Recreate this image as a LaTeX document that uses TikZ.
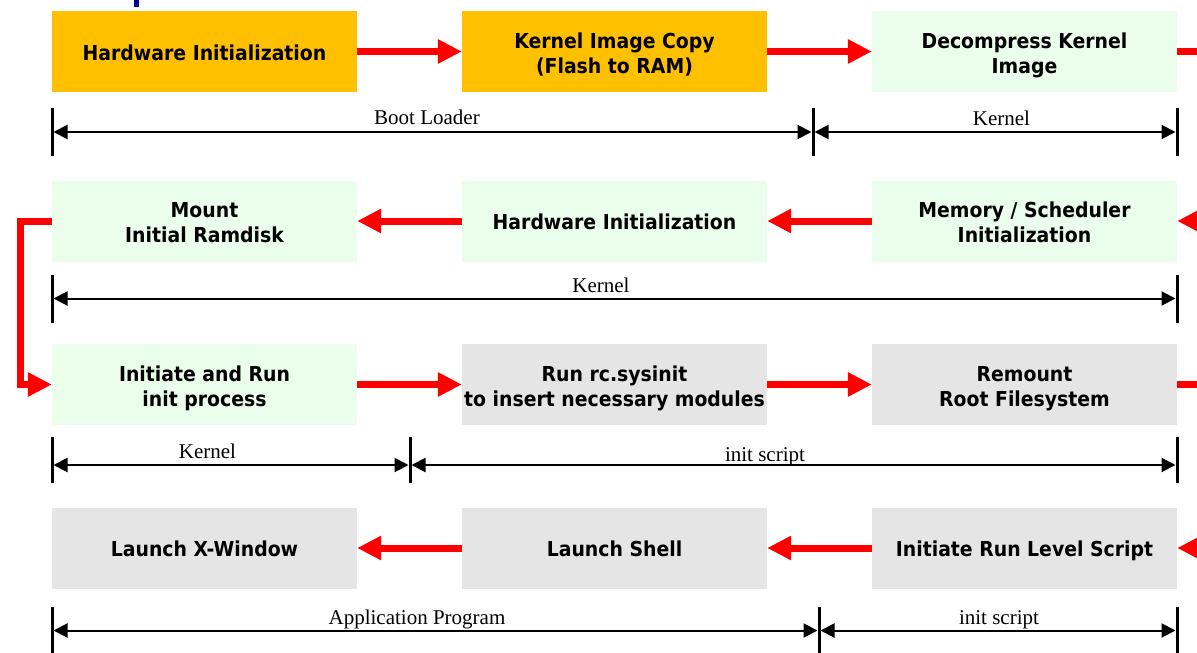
\documentclass[tikz,border=0pt]{standalone}
\usepackage{fontspec}
\setmainfont{Liberation Serif}
\newfontfamily\boxfont{DejaVu Sans}[FakeStretch=0.915]
\usetikzlibrary{arrows.meta}
\definecolor{stageorange}{RGB}{255,192,0}
\definecolor{stagegreen}{RGB}{235,253,235}
\definecolor{stagegray}{RGB}{229,229,229}
\definecolor{flowred}{RGB}{255,0,0}
\definecolor{titleblue}{RGB}{0,0,160}
\tikzset{
  stage/.style={minimum width=305pt, minimum height=81pt, inner sep=0pt, align=center,
    font=\boxfont\bfseries\fontsize{20.6}{25}\selectfont,
    % fixed text box so that every stage text sits at the same height
    execute at begin node={\rule{0pt}{22pt}},
    execute at end node={\rule[-5pt]{0pt}{5pt}}},
  pair/.style={execute at begin node={\rule{0pt}{48pt}}},
  boot/.style={stage, fill=stageorange},
  kern/.style={stage, fill=stagegreen},
  user/.style={stage, fill=stagegray},
  flow/.style={draw=flowred, line width=7pt, line join=miter, -{Triangle[length=24pt,width=23pt]}},
  stub/.style={draw=flowred, line width=7pt},
  span/.style={draw=black, line width=2pt, shorten <=1.5pt, shorten >=1.5pt,
    {Triangle[length=14pt,width=14pt]}-{Triangle[length=14pt,width=14pt]}},
  tickmark/.style={draw=black, line width=3pt},
  spanlabel/.style={font=\fontsize{21}{25}\selectfont, anchor=base, inner sep=0pt},
}
\begin{document}
\begin{tikzpicture}[x=1pt,y=-1pt]
\useasboundingbox (0,0) rectangle (1197,653);
\clip (0,0) rectangle (1197,653);

% fragment of the heading above the flow
\fill[titleblue] (134,0) rectangle (139,7);

% boot stages
\node[boot] (hwinit)         at (204.5,51.5) {Hardware Initialization};
\node[boot,pair] (kcopy)     at (614.5,51.5) {Kernel Image Copy\\(Flash to RAM)};
\node[kern,pair] (decomp)    at (1024.5,51.5) {Decompress Kernel\\Image};
\node[kern,pair] (mount)     at (204.5,221) {Mount\\Initial Ramdisk};
\node[kern] (hwinit2)        at (614.5,221) {Hardware Initialization};
\node[kern,pair] (memsched)  at (1024.5,221) {Memory / Scheduler\\Initialization};
\node[kern,pair] (initrun)   at (204.5,384.5) {Initiate and Run\\init process};
\node[user,pair] (rcsys)     at (614.5,384.5) {Run rc.sysinit\\to insert necessary modules};
\node[user,pair] (remount)   at (1024.5,384.5) {Remount\\Root Filesystem};
\node[user] (xwin)           at (204.5,548) {Launch X-Window};
\node[user] (shell)          at (614.5,548) {Launch Shell};
\node[user] (runlevel)       at (1024.5,548) {Initiate Run Level Script};

% ends of the flow leaving / entering at the right margin
\coordinate (edge1) at (1200,51.5);
\coordinate (edge2) at (1210,221);
\coordinate (edge3) at (1200,384.5);
\coordinate (edge4) at (1210,548);
\coordinate (bend)  at (20,221);

% flow
\draw[flow] (hwinit) -- (kcopy);
\draw[flow] (kcopy) -- (decomp);
\draw[stub] (decomp.east) -- (edge1);
\draw[flow] (edge2) -- (memsched.east);
\draw[flow] (memsched) -- (hwinit2);
\draw[flow] (hwinit2) -- (mount);
\draw[flow] (mount.west) -- (bend) |- (initrun.west);
\draw[flow] (initrun) -- (rcsys);
\draw[flow] (rcsys) -- (remount);
\draw[stub] (remount.east) -- (edge3);
\draw[flow] (edge4) -- (runlevel.east);
\draw[flow] (runlevel) -- (shell);
\draw[flow] (shell) -- (xwin);

% span markers
\coordinate (s1a) at (52,132);   \coordinate (s1b) at (813,132);  \coordinate (s1c) at (1177,132);
\coordinate (s2a) at (52,298.5); \coordinate (s2b) at (1177,298.5);
\coordinate (s3a) at (52,465);   \coordinate (s3b) at (410,465);  \coordinate (s3c) at (1177,465);
\coordinate (s4a) at (52,630.5); \coordinate (s4b) at (819,630.5); \coordinate (s4c) at (1177,630.5);

\foreach \x in {52,813,1177} \draw[tickmark] (\x,108) -- (\x,156);
\foreach \x in {52,1177} \draw[tickmark] (\x,275) -- (\x,323);
\foreach \x in {52,410,1177} \draw[tickmark] (\x,437) -- (\x,483);
\foreach \x in {52,819,1177} \draw[tickmark] (\x,607) -- (\x,655);

\draw[span] (s1a) -- (s1b);
\draw[span] (s1b) -- (s1c);
\draw[span] (s2a) -- (s2b);
\draw[span] (s3a) -- (s3b);
\draw[span] (s3b) -- (s3c);
\draw[span] (s4a) -- (s4b);
\draw[span] (s4b) -- (s4c);

\node[spanlabel] (lboot)  at (427,124)   {Boot Loader};
\node[spanlabel] (lkern1) at (1001.5,125) {Kernel};
\node[spanlabel] (lkern2) at (601,292)   {Kernel};
\node[spanlabel] (lkern3) at (207.5,458) {Kernel};
\node[spanlabel] (linit1) at (765,461)   {init script};
\node[spanlabel] (lapp)   at (417,624)   {Application Program};
\node[spanlabel] (linit2) at (999,624)   {init script};
\end{tikzpicture}
\end{document}
